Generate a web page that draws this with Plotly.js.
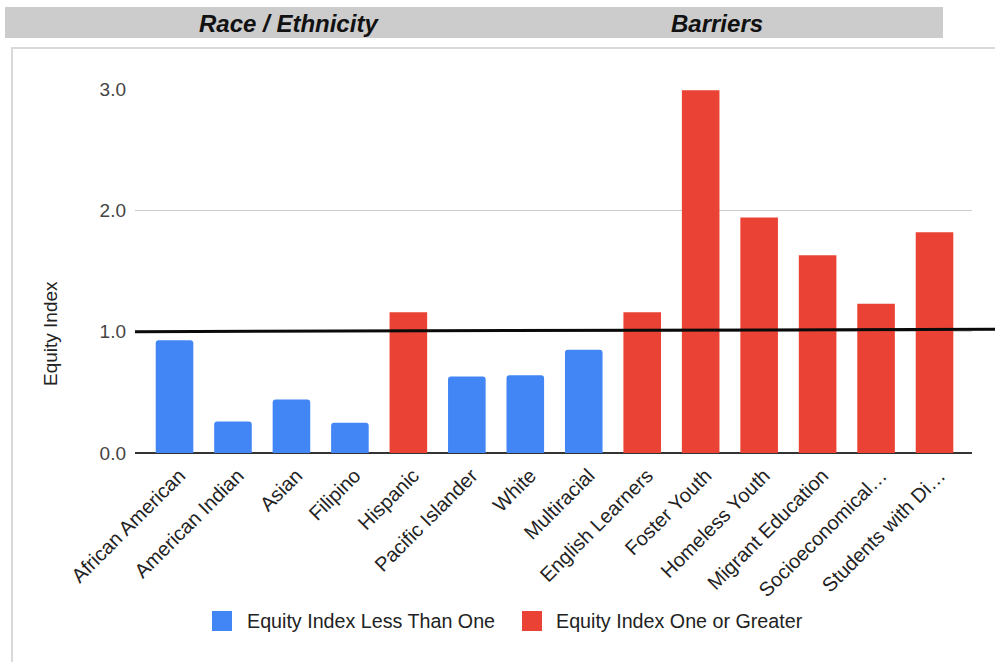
<!DOCTYPE html>
<html>
<head>
<meta charset="utf-8">
<script src="https://cdn.plot.ly/plotly-3.0.1.min.js"></script>
<style>
  html, body { margin: 0; padding: 0; background: #ffffff; }
  #chart { width: 995px; height: 662px; }
</style>
</head>
<body>
<div id="chart"></div>
<script>
// ---- Data ----
const categories = [
  "African American", "American Indian", "Asian", "Filipino", "Hispanic",
  "Pacific Islander", "White", "Multiracial", "English Learners", "Foster Youth",
  "Homeless Youth", "Migrant Education", "Socioeconomical\u2026", "Students with Di\u2026"
];
const lessThanOne = [0.93, 0.26, 0.44, 0.25, null, 0.63, 0.64, 0.85, null, null, null, null, null, null];
const oneOrGreater = [null, null, null, null, 1.16, null, null, null, 1.16, 2.99, 1.94, 1.63, 1.23, 1.82];
const seriesNames = ["Equity Index Less Than One", "Equity Index One or Greater"];
const groupHeaders = ["Race / Ethnicity", "Barriers"];
const yTickVals = [0, 1, 2, 3];
const yTickText = ["0.0", "1.0", "2.0", "3.0"];
const referenceLevel = [1.0, 1.02];
const yAxisTitle = "Equity Index";

// ---- Layout geometry (pixels) ----
const W = 995, H = 662;
const M = { l: 135, r: 23, t: 89, b: 209 };
const PW = W - M.l - M.r, PH = H - M.t - M.b;
const px = x => (x - M.l) / PW;            // pixel x -> paper x
const py = y => (H - M.b - y) / PH;        // pixel y -> paper y

const BLUE = "#4285F4", RED = "#EA4335";
const FONT = "Liberation Sans, Arial, sans-serif";

const idx = categories.map((_, i) => i);

const traces = [
  {
    type: "bar", x: idx, y: lessThanOne, name: seriesNames[0],
    marker: { color: BLUE, cornerradius: 3 }, width: 0.643, showlegend: false,
    hoverinfo: "x+y"
  },
  {
    type: "bar", x: idx, y: oneOrGreater, name: seriesNames[1],
    marker: { color: RED }, width: 0.643, showlegend: false,
    hoverinfo: "x+y"
  }
];

const shapes = [
  // chart frame
  { type: "rect", xref: "paper", yref: "paper", x0: px(12), x1: px(1010), y0: py(48), y1: py(680),
    line: { color: "#d9d9d9", width: 2 }, fillcolor: "rgba(0,0,0,0)", layer: "below" },
  // header band
  { type: "rect", xref: "paper", yref: "paper", x0: px(5), x1: px(943), y0: py(7), y1: py(38),
    line: { width: 0 }, fillcolor: "#cccccc", layer: "below" },
  // reference line at 1.0
  { type: "line", xref: "paper", yref: "y", x0: 0, x1: px(995), y0: referenceLevel[0], y1: referenceLevel[1],
    line: { color: "#0a0a0a", width: 3 }, layer: "above" },
  // legend swatches
  { type: "rect", xref: "paper", yref: "paper", x0: px(212), x1: px(232), y0: py(611), y1: py(631),
    line: { color: BLUE, width: 0 }, fillcolor: BLUE },
  { type: "rect", xref: "paper", yref: "paper", x0: px(522), x1: px(542), y0: py(611), y1: py(631),
    line: { color: RED, width: 0 }, fillcolor: RED }
];

const annotations = [
  { text: "<b><i>" + groupHeaders[0] + "</i></b>", xref: "paper", yref: "paper", x: px(289), y: py(24),
    showarrow: false, xanchor: "center", yanchor: "middle", font: { family: FONT, size: 24, color: "#111" } },
  { text: "<b><i>" + groupHeaders[1] + "</i></b>", xref: "paper", yref: "paper", x: px(717), y: py(24),
    showarrow: false, xanchor: "center", yanchor: "middle", font: { family: FONT, size: 24, color: "#111" } },
  { text: yAxisTitle, xref: "paper", yref: "paper", x: px(50), y: py(334), textangle: -90,
    showarrow: false, xanchor: "center", yanchor: "middle", font: { family: FONT, size: 19, color: "#222" } },
  { text: seriesNames[0], xref: "paper", yref: "paper", x: px(245), y: py(621),
    showarrow: false, xanchor: "left", yanchor: "middle", font: { family: FONT, size: 19.7, color: "#222" } },
  { text: seriesNames[1], xref: "paper", yref: "paper", x: px(554), y: py(621),
    showarrow: false, xanchor: "left", yanchor: "middle", font: { family: FONT, size: 19.7, color: "#222" } }
];

const layout = {
  width: W, height: H,
  margin: M,
  paper_bgcolor: "#ffffff", plot_bgcolor: "#ffffff",
  font: { family: FONT, size: 19, color: "#222" },
  barmode: "overlay",
  showlegend: false,
  xaxis: {
    range: [-0.676, 13.641],
    tickmode: "array", tickvals: idx, ticktext: categories,
    tickangle: -45, showgrid: false, zeroline: false, showline: false, ticks: "",
    ticklabelstandoff: 6, ticklabelshift: 5,
    tickfont: { family: FONT, size: 20, color: "#222" }, fixedrange: true
  },
  yaxis: {
    range: [0, 3], tickmode: "array", tickvals: yTickVals, ticktext: yTickText,
    showgrid: true, gridcolor: "#cccccc", gridwidth: 1,
    zeroline: true, zerolinecolor: "#333333", zerolinewidth: 1.5,
    showline: false, ticks: "", ticklabelstandoff: 8,
    tickfont: { family: FONT, size: 19, color: "#444" }, fixedrange: true
  },
  shapes: shapes,
  annotations: annotations
};

Plotly.newPlot("chart", traces, layout, { displayModeBar: false, staticPlot: true });
</script>
</body>
</html>
